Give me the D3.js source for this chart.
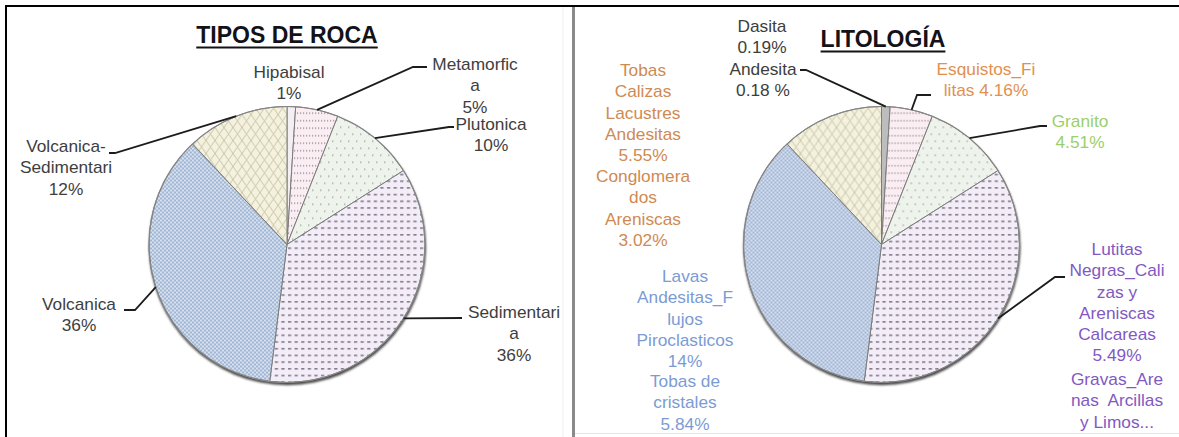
<!DOCTYPE html>
<html>
<head>
<meta charset="utf-8">
<script src="https://cdn.jsdelivr.net/npm/d3@7"></script>
<style>
  html, body { margin: 0; padding: 0; background: #fff; }
  svg { display: block; }
  text { font-family: "Liberation Sans", Arial, sans-serif; }
</style>
</head>
<body>
<svg id="chart" width="1179" height="437"></svg>
<script>
// ---- Rock types (%), clockwise from 12 o'clock ----
const rockTypes = ["Hipabisal", "Metamorfica", "Plutonica", "Sedimentaria", "Volcanica", "Volcanica-Sedimentaria"];
const rockShares = [1, 5, 10, 36, 36, 12];
// wrapped name lines; the percentage line is appended from rockShares
const rockNameLines = [["Hipabisal"], ["Metamorfic", "a"], ["Plutonica"], ["Sedimentari", "a"], ["Volcanica"], ["Volcanica-", "Sedimentari"]];

// ---- Lithologies annotated around the second pie ----
const lithoNames = ["Dasita", "Andesita", "Esquistos_Filitas", "Granito",
  "Lutitas Negras_Calizas y Areniscas Calcareas", "Gravas_Arenas Arcillas y Limos...",
  "Lavas Andesitas_Flujos Piroclasticos", "Tobas de cristales",
  "Tobas Calizas Lacustres Andesitas", "Conglomerados Areniscas"];
const lithoShares = [0.19, 0.18, 4.16, 4.51, 5.49, null, 14, 5.84, 5.55, 3.02];
const lithoUnits = ["%", " %", "%", "%", "%", "", "%", "%", "%", "%"];
const lithoNameLines = [["Dasita"], ["Andesita"], ["Esquistos_Fi", "litas"], ["Granito"],
  ["Lutitas", "Negras_Cali", "zas y", "Areniscas", "Calcareas"], ["Gravas_Are", "nas  Arcillas", "y Limos..."],
  ["Lavas", "Andesitas_F", "lujos", "Piroclasticos"], ["Tobas de", "cristales"],
  ["Tobas", "Calizas", "Lacustres", "Andesitas"], ["Conglomera", "dos", "Areniscas"]];
const lithoInlineValue = [false, false, true, false, false, false, false, false, false, false];
const lithoGroup = ["Hipabisal", "Hipabisal", "Metamorfica", "Plutonica", "Sedimentaria", "Sedimentaria",
  "Volcanica", "Volcanica", "Volcanica-Sedimentaria", "Volcanica-Sedimentaria"];

// ---- styling / layout ----
const W = 1179, H = 437;
const R = 138;
const pies = [
  { title: "TIPOS DE ROCA", cx: 287, cy: 244.5, titleX: 287, titleY: 43 },
  { title: "LITOLOGÍA", cx: 881.5, cy: 244.5, titleX: 883, titleY: 47 }
];
const fillIds = {
  "Hipabisal": "p-hip", "Metamorfica": "p-meta", "Plutonica": "p-plu",
  "Sedimentaria": "p-sed", "Volcanica": "p-vol", "Volcanica-Sedimentaria": "p-vs"
};
const rockLabelPos = [[289, 73], [475, 65], [491, 125], [514, 313], [79, 305], [66, 147]];
const rockLeaderPts = [null, [[413, 67], [427, 67]], [[449, 127], [454, 127]], [[462, 318]], [[135, 310], [124, 310]], [[115, 153], [109, 153]]];
const lithoLabelPos = [[762, 27], [763, 70], [986, 70], [1080, 122], [1117, 250], [1117, 380], [685, 277], [685, 382], [643, 71], [643, 177]];
const lithoColor = { "Hipabisal": "#3d3d3d", "Metamorfica": "#e29050", "Plutonica": "#9ccf6a",
  "Sedimentaria": "#8259c2", "Volcanica": "#7b9bd4", "Volcanica-Sedimentaria": "#cf8a52" };
const lithoLeaderPts = { "Hipabisal": [[806, 70], [800, 70]], "Metamorfica": [[917, 95], [931, 95]],
  "Plutonica": [[1040, 126], [1047, 126]], "Sedimentaria": [[1055, 277], [1065, 277]] };
const lineH = 21.2;
const fontSize = 16, stretch = 1.08;

const svg = d3.select("#chart");
const defs = svg.append("defs");

// pattern fills for the slices
function pattern(id, w, h, bg, draw) {
  const p = defs.append("pattern").attr("id", id).attr("patternUnits", "userSpaceOnUse")
    .attr("width", w).attr("height", h);
  p.append("rect").attr("width", w).attr("height", h).attr("fill", bg);
  draw(p);
}
pattern("p-hip", 4, 4, "#f4eff2", () => {});
pattern("p-hip2", 4, 4, "#bdbdbd", () => {});
pattern("p-meta", 3, 7.5, "#fbeef2", p => {
  p.append("rect").attr("x", 1).attr("y", 3).attr("width", 1.2).attr("height", 1.4).attr("fill", "#9a8f98");
});
pattern("p-plu", 8, 14, "#eef3ec", p => {
  p.append("rect").attr("x", 1).attr("y", 1).attr("width", 1.4).attr("height", 1.4).attr("fill", "#9ea89e");
  p.append("rect").attr("x", 5).attr("y", 8).attr("width", 1.4).attr("height", 1.4).attr("fill", "#9ea89e");
});
pattern("p-sed", 6.6, 6.7, "#f3edf7", p => {
  p.append("rect").attr("x", 1).attr("y", 3).attr("width", 3.2).attr("height", 1.4).attr("fill", "#75697e");
});
pattern("p-vol", 4, 4, "#d5e1ef", p => {
  p.append("path").attr("d", "M0,4 L4,0 M0,0 L4,4").attr("stroke", "#95aaca").attr("stroke-width", 0.8);
});
pattern("p-vs", 9, 13, "#f4f2df", p => {
  p.append("path").attr("d", "M0,13 L9,0 M0,0 L9,13 M-1,1.44 L1,-1.44 M8,14.44 L10,11.56")
    .attr("stroke", "#c9c4a6").attr("stroke-width", 1);
});

const shadow = defs.append("filter").attr("id", "soft").attr("x", "-10%").attr("y", "-10%")
  .attr("width", "120%").attr("height", "120%");
shadow.append("feGaussianBlur").attr("stdDeviation", 1.2);

// frame
svg.append("rect").attr("width", W).attr("height", H).attr("fill", "#fff");
svg.append("line").attr("x1", 5).attr("x2", W).attr("y1", 6).attr("y2", 6).attr("stroke", "#000").attr("stroke-width", 2);
svg.append("line").attr("x1", 6).attr("x2", 6).attr("y1", 5).attr("y2", H).attr("stroke", "#000").attr("stroke-width", 2);
svg.append("line").attr("x1", 563).attr("x2", 563).attr("y1", 7).attr("y2", H).attr("stroke", "#efefef").attr("stroke-width", 1);
svg.append("line").attr("x1", 573.5).attr("x2", 573.5).attr("y1", 7).attr("y2", H).attr("stroke", "#8a8a8a").attr("stroke-width", 3);
svg.append("line").attr("x1", 575).attr("x2", W).attr("y1", 433.5).attr("y2", 433.5).attr("stroke", "#e4e4e4").attr("stroke-width", 1);

const pieGen = d3.pie().sort(null).value(d => d.v);
const arc = d3.arc().innerRadius(0).outerRadius(R);
const rockData = rockTypes.map((k, i) => ({ k, v: rockShares[i] }));
const arcs = pieGen(rockData);

function edgePoint(a, cx, cy) {
  const m = (a.startAngle + a.endAngle) / 2;
  return [cx + R * Math.sin(m), cy - R * Math.cos(m)];
}

function label(g, x, y, lines, color) {
  const t = g.append("g").attr("transform", `translate(${x},${y}) scale(${stretch},1)`);
  lines.forEach((s, i) => {
    t.append("text").attr("x", 0).attr("y", i * lineH).attr("text-anchor", "middle")
      .attr("dominant-baseline", "central").attr("font-size", fontSize).attr("fill", color)
      .style("white-space", "pre").text(s);
  });
}

function leader(g, pts) {
  g.append("path").attr("d", d3.line()(pts)).attr("fill", "none")
    .attr("stroke", "#1c1c1c").attr("stroke-width", 1.8);
}

pies.forEach((pc, pi) => {
  const g = svg.append("g");
  // title with underline
  const title = g.append("text").attr("x", pc.titleX).attr("y", pc.titleY).attr("text-anchor", "middle")
    .attr("font-size", 23).attr("font-weight", "bold").attr("fill", "#121218").text(pc.title);
  const tw = title.node().getComputedTextLength();
  g.append("line").attr("x1", pc.titleX - tw / 2).attr("x2", pc.titleX + tw / 2)
    .attr("y1", pc.titleY + 4.5).attr("y2", pc.titleY + 4.5).attr("stroke", "#121218").attr("stroke-width", 2);

  // pie with a soft drop shadow along the lower rim
  g.append("circle").attr("cx", pc.cx + 0.5).attr("cy", pc.cy + 2.2).attr("r", R + 0.5)
    .attr("fill", "#4a4a4a").attr("filter", "url(#soft)");
  const pg = g.append("g").attr("transform", `translate(${pc.cx},${pc.cy})`);
  pg.selectAll("path").data(arcs).join("path")
    .attr("d", arc)
    .attr("fill", d => d.data.k === "Hipabisal" && pi === 1 ? "url(#p-hip2)" : `url(#${fillIds[d.data.k]})`)
    .attr("stroke", "#7c7c7c").attr("stroke-width", 1);
  pg.append("circle").attr("r", R).attr("fill", "none").attr("stroke", "#868686").attr("stroke-width", 1.2);
});

// labels and leaders for rock types
const gl = svg.append("g");
arcs.forEach((a, i) => {
  if (rockLeaderPts[i]) leader(gl, [edgePoint(a, pies[0].cx, pies[0].cy), ...rockLeaderPts[i]]);
  label(gl, rockLabelPos[i][0], rockLabelPos[i][1], [...rockNameLines[i], rockShares[i] + "%"], "#3e3e3e");
});

// lithology annotations around the second pie
const gr = svg.append("g");
arcs.forEach(a => {
  const pts = lithoLeaderPts[a.data.k];
  if (pts) leader(gr, [edgePoint(a, pies[1].cx, pies[1].cy), ...pts]);
});
lithoNames.forEach((n, i) => {
  const lines = lithoNameLines[i].slice();
  if (lithoShares[i] !== null) {
    const val = String(lithoShares[i]) + lithoUnits[i];
    if (lithoInlineValue[i]) lines[lines.length - 1] += " " + val;
    else lines.push(val);
  }
  label(gr, lithoLabelPos[i][0], lithoLabelPos[i][1], lines, lithoColor[lithoGroup[i]]);
});
</script>
</body>
</html>
